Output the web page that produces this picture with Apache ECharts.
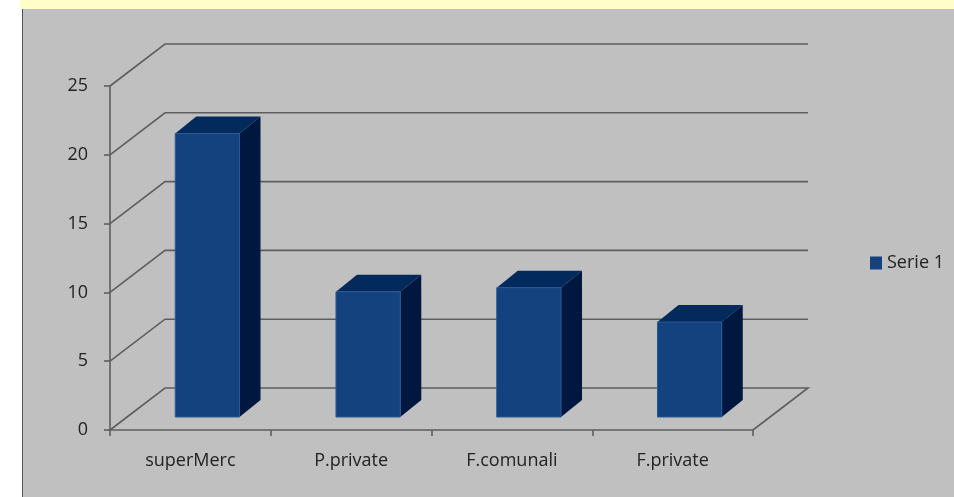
<!DOCTYPE html>
<html><head><meta charset="utf-8">
<script src="https://cdn.jsdelivr.net/npm/echarts@6/dist/echarts.min.js"></script>
<style>html,body{margin:0;padding:0;background:#fff}#c{width:954px;height:497px}</style>
</head><body><div id="c"></div>
<script>
const categories = ['superMerc', 'P.private', 'F.comunali', 'F.private'];
const serie1 = [20.6, 9.1, 9.4, 6.9];
const yTicks = [0, 5, 10, 15, 20, 25];

const DEPTH = [55, -42];      // wall depth offset (px)
const BAR_FRONT = [17, -13];  // front face offset from floor front
const BAR_DEPTH = [21, -17];  // bar depth
const LINE = '#5e5e5e';
const FONT = 'Open Sans';

const chart = echarts.init(document.getElementById('c'), null, {renderer: 'canvas'});

function renderWall(params, api) {
  const v = api.value(1);
  const p = api.coord([0, v]);
  const band = api.size([1, 0])[0];
  const x0 = p[0] - band / 2, x1 = x0 + band * categories.length;
  const y = p[1];
  const pts = [[x0, y], [x0 + DEPTH[0], y + DEPTH[1]], [x1 + DEPTH[0], y + DEPTH[1]]];
  if (v === 0) pts.push([x1, y]);
  return {type: 'polyline', shape: {points: pts}, style: {stroke: LINE, lineWidth: 1.6, fill: null}};
}

function renderBar(params, api) {
  const i = api.value(0), v = api.value(1);
  const top = api.coord([i, v]), base = api.coord([i, 0]);
  const w = api.size([1, 0])[0] * 0.4;
  const xl = top[0] - w / 2 + BAR_FRONT[0], xr = xl + w;
  const yt = top[1] + BAR_FRONT[1], yb = base[1] + BAR_FRONT[1];
  const dx = BAR_DEPTH[0], dy = BAR_DEPTH[1];
  return {type: 'group', children: [
    {type: 'polygon', shape: {points: [[xl, yt], [xr, yt], [xr + dx, yt + dy], [xl + dx, yt + dy]]}, style: {fill: '#032a5c'}},
    {type: 'polygon', shape: {points: [[xr, yt], [xr + dx, yt + dy], [xr + dx, yb + dy], [xr, yb]]}, style: {fill: '#00183f'}},
    {type: 'rect', shape: {x: xl, y: yt, width: w, height: yb - yt}, style: {fill: '#14427f', stroke: '#2b5a96', lineWidth: 1}}
  ]};
}

chart.setOption({
  backgroundColor: '#ffffff',
  animation: false,
  graphic: [
    {type: 'rect', z: -10, shape: {x: 20, y: 0, width: 934, height: 9}, style: {fill: '#FFFEC8'}},
    {type: 'rect', z: -10, shape: {x: 22, y: 9, width: 932, height: 488}, style: {fill: '#C0C0C0'}},
    {type: 'line', z: -9, shape: {x1: 22.5, y1: 9, x2: 22.5, y2: 497}, style: {stroke: '#555', lineWidth: 1}}
  ],
  grid: {left: 110, top: 86, width: 643, height: 344},
  legend: {
    left: 865, top: 249, icon: 'rect', itemWidth: 12, itemHeight: 13, itemGap: 6,
    textStyle: {fontFamily: FONT, fontSize: 18, color: '#222'},
    data: ['Serie 1']
  },
  xAxis: {
    type: 'category', data: categories,
    axisLine: {lineStyle: {color: LINE, width: 1.6}},
    axisTick: {show: true, length: 6, lineStyle: {color: LINE, width: 1.6}},
    axisLabel: {margin: 22, fontFamily: FONT, fontSize: 18, color: '#222'},
    splitLine: {show: false}
  },
  yAxis: {
    type: 'value', min: 0, max: 25, interval: 5,
    axisLine: {show: true, lineStyle: {color: LINE, width: 1.6}},
    axisTick: {show: true, length: 6, lineStyle: {color: LINE, width: 1.6}},
    axisLabel: {margin: 22, fontFamily: FONT, fontSize: 18, color: '#222'},
    splitLine: {show: false}
  },
  series: [
    {type: 'custom', name: 'walls', renderItem: renderWall, data: yTicks.map(v => [0, v]), z: 1, silent: true},
    {type: 'custom', name: 'Serie 1', renderItem: renderBar, itemStyle: {color: '#14427f'},
     data: serie1.map((v, i) => [i, v]), z: 3}
  ]
});
</script></body></html>
